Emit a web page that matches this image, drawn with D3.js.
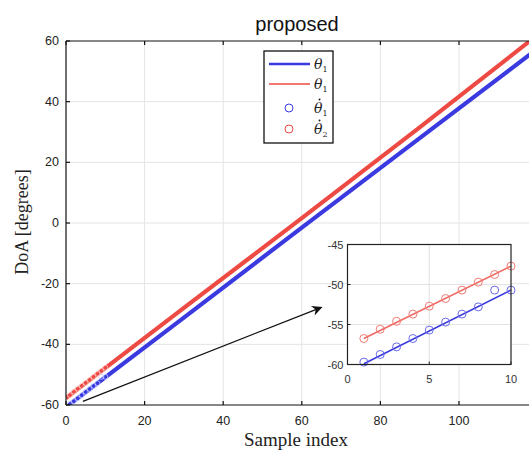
<!DOCTYPE html>
<html>
<head>
<meta charset="utf-8">
<script src="https://cdn.jsdelivr.net/npm/d3@7"></script>
<style>
    body { margin: 0; background: #fff; }
    svg { display: block; }
</style>
</head>
<body>
<div id="chart"></div>
<script>
// Main chart series
const sampleIdx = [0, 30, 60, 90, 120];
const thetaTrue1 = [-60.7, -31.2, -1.5, 28.0, 57.5];
const thetaTrue2 = [-57.7, -28.0, 1.6, 31.5, 62.0];

// Zoomed section: first ten samples
const zoomIdx = [1, 2, 3, 4, 5, 6, 7, 8, 9, 10];
const est1 = [-59.7, -58.75, -57.8, -56.75, -55.7, -54.7, -53.7, -52.8, -50.7, -50.7];
const est2 = [-56.75, -55.6, -54.6, -53.7, -52.7, -51.75, -50.7, -49.7, -48.75, -47.7];
const zoomLine1 = [[1, -59.9], [10, -50.7]];
const zoomLine2 = [[1, -56.75], [10, -47.7]];

const xTicks = [0, 20, 40, 60, 80, 100, 120];
const xTickLabels = [0, 20, 40, 60, 80, 100]; // 120 falls outside the window
const yTicks = [-60, -40, -20, 0, 20, 40, 60];
const zoomXTicks = [0, 5, 10];
const zoomYTicks = [-60, -55, -50, -45];

// arrow from the zoomed region to the inset (data coords)
const arrowFrom = [4.3, -58.8];
const arrowTo = [65.0, -27.8];

const blue = '#3a3ae0', red = '#ee4a44';

const width = 529, height = 452;
const svg = d3.select('#chart').append('svg')
    .attr('width', width)
    .attr('height', height);

// Main axes
const x = d3.scaleLinear().domain([0, 120]).range([66, 537.6]);
const y = d3.scaleLinear().domain([-60, 60]).range([405, 41]);

svg.append('defs').append('clipPath').attr('id', 'plotclip')
    .append('rect')
    .attr('x', x(0)).attr('y', y(60))
    .attr('width', x(120) - x(0)).attr('height', y(-60) - y(60));

// grid
const grid = svg.append('g').style('stroke', '#e4e4e4').style('stroke-width', 1);
grid.selectAll('.gx').data(xTicks.slice(1, -1)).enter().append('line')
    .attr('x1', d => x(d)).attr('x2', d => x(d))
    .attr('y1', y(60)).attr('y2', y(-60));
grid.selectAll('.gy').data(yTicks.slice(1, -1)).enter().append('line')
    .attr('x1', x(0)).attr('x2', x(120))
    .attr('y1', d => y(d)).attr('y2', d => y(d));

// lines
const plot = svg.append('g').attr('clip-path', 'url(#plotclip)');
const line = d3.line().x(d => x(d[0])).y(d => y(d[1]));
plot.append('path')
    .datum(sampleIdx.map((s, i) => [s, thetaTrue1[i]]))
    .attr('d', line)
    .style('fill', 'none').style('stroke', blue).style('stroke-width', 4.2);
plot.append('path')
    .datum(sampleIdx.map((s, i) => [s, thetaTrue2[i]]))
    .attr('d', line)
    .style('fill', 'none').style('stroke', red).style('stroke-width', 4.2);

// estimates on the main chart (tiny circles)
plot.selectAll('.m1').data(zoomIdx).enter().append('circle')
    .attr('cx', d => x(d)).attr('cy', (d, i) => y(est1[i])).attr('r', 2.5)
    .style('fill', 'none').style('stroke', '#c8d0ff').style('stroke-width', 0.8);
plot.selectAll('.m2').data(zoomIdx).enter().append('circle')
    .attr('cx', d => x(d)).attr('cy', (d, i) => y(est2[i])).attr('r', 2.5)
    .style('fill', 'none').style('stroke', '#ffc8c4').style('stroke-width', 0.8);

// frame and ticks
const axes = svg.append('g').style('stroke', '#111').style('stroke-width', 1.2);
axes.append('line').attr('x1', x(0)).attr('x2', x(120)).attr('y1', y(60)).attr('y2', y(60));
axes.append('line').attr('x1', x(0)).attr('x2', x(120)).attr('y1', y(-60)).attr('y2', y(-60));
axes.append('line').attr('x1', x(0)).attr('x2', x(0)).attr('y1', y(60)).attr('y2', y(-60));
axes.selectAll('.tb').data(xTicks).enter().append('line')
    .attr('x1', d => x(d)).attr('x2', d => x(d)).attr('y1', y(-60)).attr('y2', y(-60) - 4);
axes.selectAll('.tt').data(xTicks).enter().append('line')
    .attr('x1', d => x(d)).attr('x2', d => x(d)).attr('y1', y(60)).attr('y2', y(60) + 4);
axes.selectAll('.tl').data(yTicks).enter().append('line')
    .attr('x1', x(0)).attr('x2', x(0) + 4).attr('y1', d => y(d)).attr('y2', d => y(d));

const tickFont = 'Liberation Sans, Arial, sans-serif';
svg.selectAll('.xl').data(xTickLabels).enter().append('text')
    .attr('x', d => x(d)).attr('y', y(-60) + 20)
    .attr('text-anchor', 'middle')
    .style('font-family', tickFont).style('font-size', '12.5px').style('fill', '#222')
    .text(d => d);
svg.selectAll('.yl').data(yTicks).enter().append('text')
    .attr('x', x(0) - 7).attr('y', d => y(d) + 4)
    .attr('text-anchor', 'end')
    .style('font-family', tickFont).style('font-size', '12.5px').style('fill', '#222')
    .text(d => d);

// titles
svg.append('text')
    .attr('x', 297).attr('y', 31)
    .attr('text-anchor', 'middle')
    .style('font-family', tickFont).style('font-size', '20px').style('fill', '#111')
    .text('proposed');
svg.append('text')
    .attr('x', 296).attr('y', 446)
    .attr('text-anchor', 'middle')
    .style('font-family', 'Liberation Serif, Times New Roman, serif').style('font-size', '19px').style('fill', '#222')
    .text('Sample index');
svg.append('text')
    .attr('transform', 'translate(28, 222) rotate(-90)')
    .attr('text-anchor', 'middle')
    .style('font-family', 'Liberation Serif, Times New Roman, serif').style('font-size', '18px').style('fill', '#222')
    .text('DoA [degrees]');

// arrow
svg.append('defs').append('marker')
    .attr('id', 'arrowhead')
    .attr('viewBox', '0 0 10 10')
    .attr('refX', 9).attr('refY', 5)
    .attr('markerWidth', 9).attr('markerHeight', 8)
    .attr('orient', 'auto')
    .append('path').attr('d', 'M0,0 L10,5 L0,10 L3,5 Z').style('fill', '#111');
svg.append('line')
    .attr('x1', x(arrowFrom[0])).attr('y1', y(arrowFrom[1]))
    .attr('x2', x(arrowTo[0])).attr('y2', y(arrowTo[1]))
    .style('stroke', '#111').style('stroke-width', 1.3)
    .attr('marker-end', 'url(#arrowhead)');

// legend
const legend = svg.append('g').attr('transform', 'translate(264, 51)');
legend.append('rect').attr('width', 69).attr('height', 92)
    .style('fill', '#fff').style('stroke', '#111').style('stroke-width', 1.3);
const legendItems = [
    {type: 'line', color: blue, sub: '1', hat: false, width: 2.6},
    {type: 'line', color: red, sub: '1', hat: false, width: 1.6},
    {type: 'circle', color: blue, sub: '1', hat: true},
    {type: 'circle', color: red, sub: '2', hat: true}
];
const legendY = [13, 33, 57, 78];
legendItems.forEach((it, i) => {
    const ly = legendY[i];
    if (it.type == 'line') {
        legend.append('line').attr('x1', 5).attr('x2', 46).attr('y1', ly).attr('y2', ly)
            .style('stroke', it.color).style('stroke-width', it.width);
    } else {
        legend.append('circle').attr('cx', 25).attr('cy', ly).attr('r', 4)
            .style('fill', 'none').style('stroke', it.color).style('stroke-width', 1);
    }
    const t = legend.append('text').attr('x', 50).attr('y', ly + 5)
        .style('font-family', 'DejaVu Serif, Liberation Serif, serif').style('fill', '#222');
    t.append('tspan').style('font-style', 'italic').style('font-size', '14px').text('θ');
    t.append('tspan').attr('dy', 3).style('font-size', '8px').text(it.sub);
    if (it.hat) {
        // dot accent over the estimate symbol
        legend.append('circle').attr('cx', 55.5).attr('cy', ly - 8.5).attr('r', 1)
            .style('fill', '#222');
    }
});

// inset
const ix = d3.scaleLinear().domain([0, 10]).range([347.5, 511]);
const iy = d3.scaleLinear().domain([-60, -45]).range([364.5, 244.5]);
const inset = svg.append('g');
inset.append('rect')
    .attr('x', ix(0)).attr('y', iy(-45))
    .attr('width', ix(10) - ix(0)).attr('height', iy(-60) - iy(-45))
    .style('fill', '#fff');
inset.selectAll('.igx').data([5]).enter().append('line')
    .attr('x1', d => ix(d)).attr('x2', d => ix(d)).attr('y1', iy(-45)).attr('y2', iy(-60))
    .style('stroke', '#e2e2e2');
inset.selectAll('.igy').data([-55, -50]).enter().append('line')
    .attr('x1', ix(0)).attr('x2', ix(10)).attr('y1', d => iy(d)).attr('y2', d => iy(d))
    .style('stroke', '#e2e2e2');

const iline = d3.line().x(d => ix(d[0])).y(d => iy(d[1]));
inset.append('path').datum(zoomLine1).attr('d', iline)
    .style('fill', 'none').style('stroke', blue).style('stroke-width', 1.6);
inset.append('path').datum(zoomLine2).attr('d', iline)
    .style('fill', 'none').style('stroke', '#f06a64').style('stroke-width', 1.6);
inset.selectAll('.ic1').data(zoomIdx).enter().append('circle')
    .attr('cx', d => ix(d)).attr('cy', (d, i) => iy(est1[i])).attr('r', 4)
    .style('fill', 'none').style('stroke', '#6a6ae8').style('stroke-width', 1);
inset.selectAll('.ic2').data(zoomIdx).enter().append('circle')
    .attr('cx', d => ix(d)).attr('cy', (d, i) => iy(est2[i])).attr('r', 4)
    .style('fill', 'none').style('stroke', '#f07a74').style('stroke-width', 1);

inset.append('rect')
    .attr('x', ix(0)).attr('y', iy(-45))
    .attr('width', ix(10) - ix(0)).attr('height', iy(-60) - iy(-45))
    .style('fill', 'none').style('stroke', '#222').style('stroke-width', 1.2);
inset.selectAll('.itx').data(zoomXTicks).enter().append('line')
    .attr('x1', d => ix(d)).attr('x2', d => ix(d)).attr('y1', iy(-60)).attr('y2', iy(-60) - 3)
    .style('stroke', '#222');
inset.selectAll('.ity').data(zoomYTicks).enter().append('line')
    .attr('x1', ix(0)).attr('x2', ix(0) + 3).attr('y1', d => iy(d)).attr('y2', d => iy(d))
    .style('stroke', '#222');
inset.selectAll('.ixl').data(zoomXTicks).enter().append('text')
    .attr('x', d => ix(d)).attr('y', iy(-60) + 18)
    .attr('text-anchor', 'middle')
    .style('font-family', tickFont).style('font-size', '11px').style('fill', '#333')
    .text(d => d);
inset.selectAll('.iyl').data(zoomYTicks).enter().append('text')
    .attr('x', ix(0) - 4).attr('y', d => iy(d) + 4)
    .attr('text-anchor', 'end')
    .style('font-family', tickFont).style('font-size', '11px').style('fill', '#333')
    .text(d => d);
</script>
</body>
</html>
